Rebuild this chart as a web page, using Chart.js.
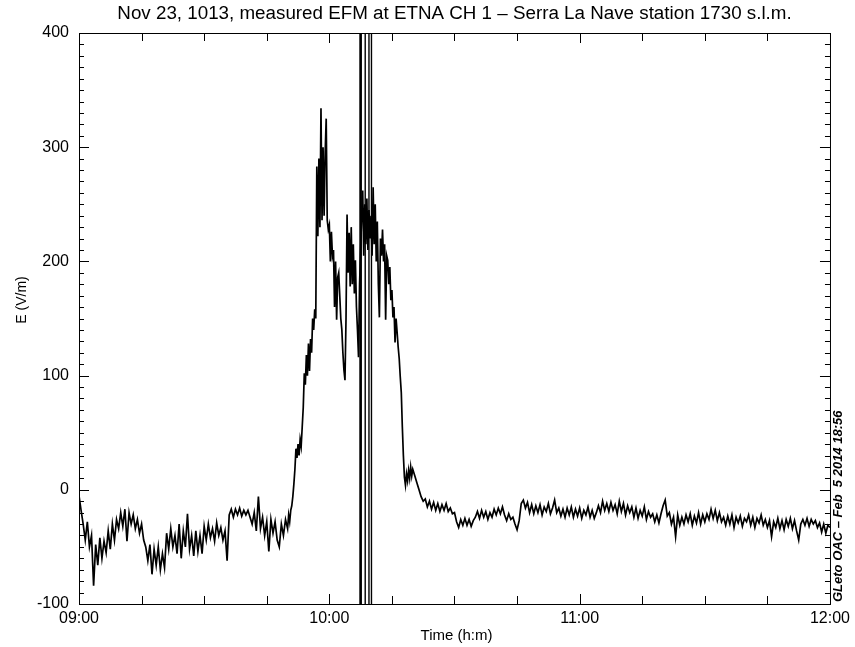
<!DOCTYPE html>
<html>
<head>
<meta charset="utf-8">
<title>EFM Serra La Nave</title>
<script src="https://cdn.jsdelivr.net/npm/chart.js@4.4.1/dist/chart.umd.min.js"></script>
<style>
  html, body { margin: 0; padding: 0; background: #fff; }
  canvas { display: block; }
</style>
</head>
<body>
<canvas id="efm" width="855" height="647"></canvas>
<script>
"use strict";

// electric field in V/m, minutes counted from 09:00.
// quiet hour before the event, every half minute from 09:00
const quietBeforeStart = 0;
const quietBeforeStep = 0.5;
const quietBeforeVm = [
    -5, -18, -30, -44, -28, -50, -40, -84, -48, -66, -42, -60, -45, -55, -36, -52, -30, -44, -26, -34,
    -20, -32, -17, -45, -20, -30, -22, -34, -26, -38, -30, -44, -50, -62, -48, -74, -52, -66, -50, -70,
    -56, -68, -38, -52, -34, -50, -40, -56, -30, -60, -36, -50, -21, -52, -40, -58, -36, -54, -40, -56,
    -32, -44, -30, -42, -34, -45, -29, -40, -33, -44, -36, -62, -22, -17, -24, -17, -22, -16, -23, -18,
    -22, -18, -24, -30, -20, -36, -6, -34, -24, -40, -28, -54, -26, -38, -28, -44, -50, -30, -40, -26
];

// the event itself, every quarter minute from 09:50
const eventStart = 50;
const eventStep = 0.25;
const eventVm = [
    -34, -22, -28, -18,   -14, -6, 5, 18,       36, 28, 40, 30,       44, 38, 55, 72,
    102, 92, 118, 100,    128, 104, 132, 120,   150, 140, 158, 150,   283, 222, 290, 230,
    334, 236, 300, 240,   295, 325, 236, 228,   232, 200, 226, 205,   210, 160, 200, 149,
    186, 190, 170, 150,   140, 120, 105, 96,    150, 241, 190, 225,   178, 230, 180, 215,
    172, 201, 160, 140,   116, 180, 210, 240,   262, 205, 250, 215,   255, 210, 245, 220,
    240, 205, 265, 215,   250, 200, 235, 180,   151, 220, 205, 228,   200, 215, 149, 205,
    201, 180, 195, 166,   175, 151, 160, 129,   150, 138, 125, 115,   99, 85, 55, 30,
    11, 4, 14, 8,         17, 10, 20, 12
];

// slow recovery after the event, every half minute from 10:20 to 12:00
const quietAfterStart = 80;
const quietAfterStep = 0.5;
const quietAfterVm = [
    18, 12, 6, 0, -6, -10, -8, -15, -10, -17, -11, -18, -12, -19, -13, -18, -12, -19, -16, -21,
    -20, -28, -33, -26, -31, -25, -31, -26, -32, -27, -24, -19, -25, -18, -24, -19, -26, -20, -24, -17,
    -22, -16, -21, -15, -22, -27, -21, -26, -24, -30, -35, -27, -12, -9, -16, -11, -20, -13, -21, -14,
    -20, -13, -22, -15, -19, -12, -21, -16, -9, -20, -16, -23, -17, -24, -16, -22, -15, -24, -17, -23,
    -16, -25, -18, -22, -15, -24, -18, -25, -20, -14, -20, -10, -18, -12, -19, -11, -18, -13, -21, -10,
    -19, -12, -22, -14, -20, -15, -24, -16, -25, -18, -23, -15, -26, -19, -24, -21, -28, -22, -29, -21,
    -14, -9, -23, -20, -30, -24, -41, -22, -31, -24, -30, -22, -28, -21, -31, -23, -29, -20, -30, -22,
    -28, -21, -26, -17, -25, -18, -27, -20, -28, -24, -31, -23, -30, -22, -33, -24, -29, -23, -32, -25,
    -28, -22, -31, -24, -33, -25, -29, -22, -31, -26, -33, -27, -41, -28, -33, -25, -34, -27, -35, -26,
    -32, -25, -34, -27, -36, -44, -30, -26, -31, -25, -32, -26, -30, -27, -33, -29, -37, -30, -38, -31,
    -33
];

// samples where the sensor saturated (minutes after 09:00) and the rails it hit
const saturatedMinutes = [67.35, 67.5, 67.65, 68.6, 69.5, 70.1];
const saturationRails = [-1000, 1000];

const xTickMinutes = [0, 60, 120, 180];
const xTickLabels = ["09:00", "10:00", "11:00", "12:00"];
const yTickValues = [-100, 0, 100, 200, 300, 400];

const titleText = "Nov 23, 1013, measured EFM at ETNA CH 1 \u2013 Serra La Nave station 1730 s.l.m.";
const xTitle = "Time (h:m)";
const yTitle = "E (V/m)";
const stampText = "GLeto OAC \u2013 Feb  5 2014 18:56";

const FONT = "'Liberation Sans', Arial, Helvetica, sans-serif";

function toPoints(start, step, values) {
    return values.map(function(v, i) {
        return { x: start + i * step, y: v };
    });
}

let fieldPoints = toPoints(quietBeforeStart, quietBeforeStep, quietBeforeVm)
    .concat(toPoints(eventStart, eventStep, eventVm))
    .concat(toPoints(quietAfterStart, quietAfterStep, quietAfterVm));

let saturatedPoints = [];
saturatedMinutes.forEach(function(t) {
    saturatedPoints.push({ x: t, y: saturationRails[0] });
    saturatedPoints.push({ x: t, y: saturationRails[1] });
    saturatedPoints.push({ x: t, y: null });
});

// IDL-like frame: box on four sides, ticks pointing inward, plus the texts
const framePlugin = {
    id: "frame",
    afterDatasetsDraw: function(chart) {
        const ctx = chart.ctx;
        const a = chart.chartArea;
        const xs = chart.scales.x;
        const ys = chart.scales.y;
        ctx.save();
        ctx.strokeStyle = "#000";
        ctx.lineWidth = 1;
        ctx.strokeRect(a.left + 0.5, a.top + 0.5, a.right - a.left, a.bottom - a.top);

        ctx.beginPath();
        for (let m = xs.min; m <= xs.max; m += 15) {
            const px = Math.round(xs.getPixelForValue(m)) + 0.5;
            const len = (m % 60 === 0) ? 10 : 8;
            ctx.moveTo(px, a.bottom); ctx.lineTo(px, a.bottom - len);
            ctx.moveTo(px, a.top); ctx.lineTo(px, a.top + len);
        }
        for (let v = ys.min; v <= ys.max; v += 10) {
            const py = Math.round(ys.getPixelForValue(v)) + 0.5;
            const len = (v % 100 === 0) ? 10 : 5;
            ctx.moveTo(a.left, py); ctx.lineTo(a.left + len, py);
            ctx.moveTo(a.right, py); ctx.lineTo(a.right - len, py);
        }
        ctx.stroke();

        ctx.fillStyle = "#000";
        ctx.textAlign = "center";
        ctx.textBaseline = "middle";
        ctx.font = "18.8px " + FONT;
        ctx.fillText(titleText, (a.left + a.right) / 2, 14);

        ctx.font = "15px " + FONT;
        ctx.fillText(xTitle, (a.left + a.right) / 2 + 2, 636);

        ctx.save();
        ctx.translate(22, 300);
        ctx.rotate(-Math.PI / 2);
        ctx.font = "14px " + FONT;
        ctx.fillText(yTitle, 0, 0);
        ctx.restore();

        ctx.save();
        ctx.translate(838, a.bottom - 2);
        ctx.rotate(-Math.PI / 2);
        ctx.textAlign = "left";
        ctx.font = "italic bold 13px " + FONT;
        ctx.fillText(stampText, 0, 0);
        ctx.restore();
        ctx.restore();
    }
};

new Chart(document.getElementById("efm"), {
    type: "line",
    data: {
        datasets: [ {
            label: "E",
            data: fieldPoints,
            borderColor: "#000",
            borderWidth: 1.7,
            pointRadius: 0,
            tension: 0
        }, {
            label: "saturated",
            data: saturatedPoints,
            borderColor: "#000",
            borderWidth: 1.4,
            pointRadius: 0,
            spanGaps: false
        } ]
    },
    options: {
        responsive: false,
        animation: false,
        devicePixelRatio: 1,
        layout: {
            padding: { top: 33, right: 24, bottom: 0, left: 0 }
        },
        plugins: {
            legend: { display: false },
            tooltip: { enabled: false },
            title: { display: false }
        },
        scales: {
            x: {
                type: "linear",
                min: 0,
                max: 180,
                afterFit: function(s) { s.height = 43; },
                afterBuildTicks: function(s) {
                    s.ticks = xTickMinutes.map(function(v) { return { value: v }; });
                },
                ticks: {
                    color: "#000",
                    font: { family: FONT, size: 16 },
                    padding: 5,
                    maxRotation: 0,
                    autoSkip: false,
                    callback: function(v) {
                        return xTickLabels[xTickMinutes.indexOf(v)];
                    }
                },
                grid: { display: false, drawTicks: false },
                border: { display: false }
            },
            y: {
                type: "linear",
                min: -100,
                max: 400,
                afterFit: function(s) { s.width = 79; },
                afterBuildTicks: function(s) {
                    s.ticks = yTickValues.map(function(v) { return { value: v }; });
                },
                ticks: {
                    color: "#000",
                    font: { family: FONT, size: 16 },
                    padding: 10
                },
                grid: { display: false, drawTicks: false },
                border: { display: false }
            }
        }
    },
    plugins: [ framePlugin ]
});
</script>
</body>
</html>
